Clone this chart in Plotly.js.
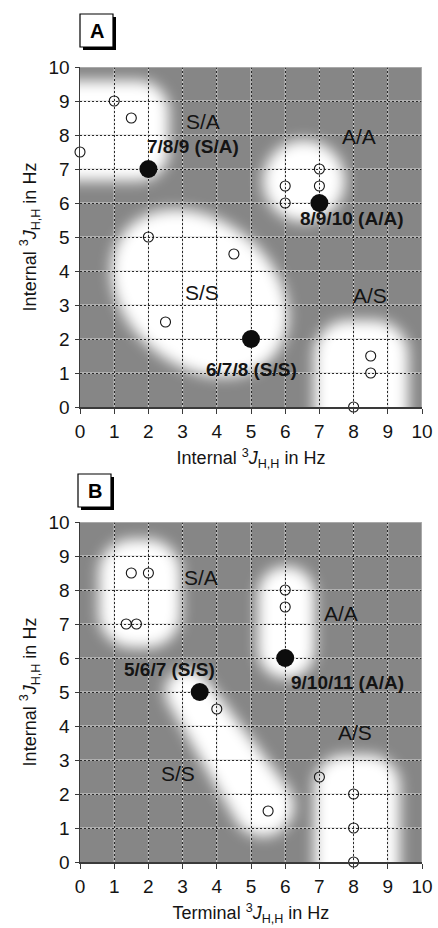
<!DOCTYPE html>
<html>
<head>
<meta charset="utf-8">
<script src="https://cdn.plot.ly/plotly-3.0.1.min.js"></script>
<style>
  html, body { margin: 0; padding: 0; background: #ffffff; }
  #chart { width: 438px; height: 928px; }
</style>
</head>
<body>
<div id="chart"></div>
<script>
// ---------------- data ----------------
const tickVals = [0, 1, 2, 3, 4, 5, 6, 7, 8, 9, 10];
const tickText = ['0', '1', '2', '3', '4', '5', '6', '7', '8', '9', '10'];

// Panel A
const openAx = [0, 1, 1.5, 2, 4.5, 2.5, 6, 6, 7, 7, 8.5, 8.5, 8];
const openAy = [7.5, 9, 8.5, 5, 4.5, 2.5, 6.5, 6, 7, 6.5, 1.5, 1, 0];
const fillAx = [2, 7, 5];
const fillAy = [7, 6, 2];
const labelAText = ['S/A', '7/8/9 (S/A)', 'A/A', '8/9/10 (A/A)', 'S/S', 'A/S', '6/7/8 (S/S)'];
const labelABold = [false, true, false, true, false, false, true];
const labelAx = [3.6, 3.3, 8.15, 7.95, 3.56, 8.48, 5.0];
const labelAy = [8.4, 7.65, 7.95, 5.53, 3.38, 3.29, 1.09];

// Panel B
const openBx = [1.5, 2, 1.35, 1.65, 6, 6, 4, 5.5, 7, 8, 8, 8];
const openBy = [8.5, 8.5, 7, 7, 8, 7.5, 4.5, 1.5, 2.5, 2, 1, 0];
const fillBx = [3.5, 6];
const fillBy = [5, 6];
const labelBText = ['S/A', 'A/A', '5/6/7 (S/S)', '9/10/11 (A/A)', 'S/S', 'A/S'];
const labelBBold = [false, false, true, true, false, false];
const labelBx = [3.54, 7.63, 2.63, 7.83, 2.87, 8.04];
const labelBy = [8.38, 7.3, 5.65, 5.27, 2.6, 3.8];

// Region (white blurred areas) outlines in data units
const regionsA = [
  {kind: 'rrect', x0: -1.5, x1: 2.6, y0: 6.65, y1: 9.6, r: 0.9},
  {kind: 'ellipse', cx: 6.55, cy: 6.65, a: 1.2, b: 1.2, ang: 0},
  {kind: 'ellipse', cx: 3.5, cy: 3.35, a: 2.85, b: 2.15, ang: -40},
  {kind: 'rrect', x0: 6.85, x1: 9.6, y0: -2, y1: 2.55, r: 1.0}
];
const regionsB = [
  {kind: 'rrect', x0: 0.55, x1: 2.95, y0: 6.3, y1: 9.5, r: 1.0},
  {kind: 'rrect', x0: 5.2, x1: 6.87, y0: 5.4, y1: 8.7, r: 0.83},
  {kind: 'capsule', x0: 3.15, y0: 5.0, r0: 0.66, x1: 5.35, y1: 1.65, r1: 0.9},
  {kind: 'rrect', x0: 6.85, x1: 9.35, y0: -2, y1: 3.15, r: 0.9}
];

// ---------------- helpers ----------------
const K = 0.5523;
function rrectPath(g) {
  const {x0, x1, y0, y1, r} = g, c = r * K;
  return `M${x0 + r},${y0} L${x1 - r},${y0} ` +
    `C${x1 - r + c},${y0} ${x1},${y0 + r - c} ${x1},${y0 + r} ` +
    `L${x1},${y1 - r} C${x1},${y1 - r + c} ${x1 - r + c},${y1} ${x1 - r},${y1} ` +
    `L${x0 + r},${y1} C${x0 + r - c},${y1} ${x0},${y1 - r + c} ${x0},${y1 - r} ` +
    `L${x0},${y0 + r} C${x0},${y0 + r - c} ${x0 + r - c},${y0} ${x0 + r},${y0} Z`;
}
function ellipsePath(g) {
  const n = 72, t = g.ang * Math.PI / 180;
  let p = '';
  for (let i = 0; i < n; i++) {
    const s = 2 * Math.PI * i / n;
    const ex = g.a * Math.cos(s), ey = g.b * Math.sin(s);
    const x = g.cx + ex * Math.cos(t) - ey * Math.sin(t);
    const y = g.cy + ex * Math.sin(t) + ey * Math.cos(t);
    p += (i === 0 ? 'M' : 'L') + x.toFixed(4) + ',' + y.toFixed(4) + ' ';
  }
  return p + 'Z';
}
function capsulePath(g) {
  const dx = g.x1 - g.x0, dy = g.y1 - g.y0;
  const base = Math.atan2(dy, dx);
  const n = 24;
  const pts = [];
  for (let i = 0; i <= n; i++) { // around end point
    const s = base - Math.PI / 2 + Math.PI * i / n;
    pts.push([g.x1 + g.r1 * Math.cos(s), g.y1 + g.r1 * Math.sin(s)]);
  }
  for (let i = 0; i <= n; i++) { // around start point
    const s = base + Math.PI / 2 + Math.PI * i / n;
    pts.push([g.x0 + g.r0 * Math.cos(s), g.y0 + g.r0 * Math.sin(s)]);
  }
  return pts.map((q, i) => (i === 0 ? 'M' : 'L') + q[0].toFixed(4) + ',' + q[1].toFixed(4)).join(' ') + ' Z';
}
function regionPath(g) {
  if (g.kind === 'rrect') return rrectPath(g);
  if (g.kind === 'ellipse') return ellipsePath(g);
  return capsulePath(g);
}

const GRAY = '#868686';
const INK = '#141414';
const FONT = 'Liberation Sans, Arial, Helvetica, sans-serif';

const shapes = [];
function addRegions(list, xr, yr) {
  list.forEach(g => shapes.push({
    type: 'path', path: regionPath(g), xref: xr, yref: yr, layer: 'below',
    fillcolor: '#ffffff', line: {width: 0}
  }));
}
addRegions(regionsA, 'x', 'y');
addRegions(regionsB, 'x2', 'y2');
const nBlobs = shapes.length;

// light under-line of the grid (dotted grid on top gives the light/dark dot look)
function addGridUnder(xr, yr) {
  tickVals.slice(1, -1).forEach(t => {
    shapes.push({type: 'line', xref: xr, yref: yr, x0: t, x1: t, y0: 0, y1: 10, layer: 'below',
      line: {color: '#d8d8d8', width: 1}});
    shapes.push({type: 'line', xref: xr, yref: yr, x0: 0, x1: 10, y0: t, y1: t, layer: 'below',
      line: {color: '#d8d8d8', width: 1}});
  });
}
addGridUnder('x', 'y');
addGridUnder('x2', 'y2');

// light top/right frame
[['x', 'y'], ['x2', 'y2']].forEach(([xr, yr]) => {
  shapes.push({type: 'line', xref: xr, yref: yr, x0: 0, x1: 10, y0: 10, y1: 10, layer: 'above',
    line: {color: '#b4b4b4', width: 1.5}});
  shapes.push({type: 'line', xref: xr, yref: yr, x0: 10, x1: 10, y0: 0, y1: 10, layer: 'above',
    line: {color: '#b4b4b4', width: 1.5}});
});

// panel letter boxes (paper coords; plot area 342x795 px starting at x=80, y bottom=862)
function px2x(px) { return (px - 80) / 342; }
function py2y(py) { return (862 - py) / 795; }
function addBox(xl, yt, size) {
  shapes.push({type: 'rect', xref: 'paper', yref: 'paper', layer: 'above',
    x0: px2x(xl + 3), x1: px2x(xl + size + 3), y0: py2y(yt + size + 3), y1: py2y(yt + 3),
    fillcolor: '#000000', line: {width: 0}});
  shapes.push({type: 'rect', xref: 'paper', yref: 'paper', layer: 'above',
    x0: px2x(xl), x1: px2x(xl + size), y0: py2y(yt + size), y1: py2y(yt),
    fillcolor: '#ffffff', line: {color: '#000000', width: 1.2}});
}
addBox(80, 14, 33);
addBox(78, 474, 33);

const annotations = [];
annotations.push({xref: 'paper', yref: 'paper', x: px2x(96.5), y: py2y(31), text: '<b>A</b>',
  showarrow: false, xanchor: 'center', yanchor: 'middle', font: {family: FONT, size: 20, color: '#000'}});
annotations.push({xref: 'paper', yref: 'paper', x: px2x(94.5), y: py2y(491), text: '<b>B</b>',
  showarrow: false, xanchor: 'center', yanchor: 'middle', font: {family: FONT, size: 20, color: '#000'}});

function addLabels(txt, bold, xs, ys, xr, yr) {
  txt.forEach((t, i) => annotations.push({
    xref: xr, yref: yr, x: xs[i], y: ys[i], text: bold[i] ? '<b>' + t + '</b>' : t,
    showarrow: false, xanchor: 'center', yanchor: 'middle',
    font: {family: FONT, size: bold[i] ? 19 : 21, color: INK}
  }));
}
addLabels(labelAText, labelABold, labelAx, labelAy, 'x', 'y');
addLabels(labelBText, labelBBold, labelBx, labelBy, 'x2', 'y2');

function openTrace(xs, ys, xa, ya) {
  return {type: 'scatter', mode: 'markers', x: xs, y: ys, xaxis: xa, yaxis: ya, cliponaxis: false,
    marker: {symbol: 'circle', size: 10, color: 'rgba(0,0,0,0)', line: {color: INK, width: 1.1}},
    hoverinfo: 'x+y', showlegend: false};
}
function fillTrace(xs, ys, xa, ya) {
  return {type: 'scatter', mode: 'markers', x: xs, y: ys, xaxis: xa, yaxis: ya, cliponaxis: false,
    marker: {symbol: 'circle', size: 18, color: '#0d0d0d', line: {width: 0}},
    hoverinfo: 'x+y', showlegend: false};
}
const traces = [
  openTrace(openAx, openAy, 'x', 'y'),
  fillTrace(fillAx, fillAy, 'x', 'y'),
  openTrace(openBx, openBy, 'x2', 'y2'),
  fillTrace(fillBx, fillBy, 'x2', 'y2')
];

const jTitle = (word) => word + ' <sup>3</sup><i>J</i><sub>H,H</sub> in Hz';

function xAxis(title, anchor) {
  return {
    range: [0, 10], tickvals: tickVals, ticktext: tickText, anchor: anchor,
    showgrid: true, gridcolor: '#2a2a2a', griddash: '2px,2px', gridwidth: 1,
    zeroline: false, showline: true, linecolor: '#3a3a3a', linewidth: 1.5,
    ticks: 'outside', ticklen: 5, tickcolor: '#3a3a3a', tickwidth: 1,
    ticklabelstandoff: 2,
    tickfont: {family: FONT, size: 19, color: INK},
    title: {text: title, font: {family: FONT, size: 18, color: INK}, standoff: 10},
    fixedrange: true
  };
}
function yAxis(title, anchor, domain) {
  return {
    range: [0, 10], tickvals: tickVals, ticktext: tickText, anchor: anchor, domain: domain,
    showgrid: true, gridcolor: '#2a2a2a', griddash: '2px,2px', gridwidth: 1,
    zeroline: false, showline: true, linecolor: '#3a3a3a', linewidth: 1.5,
    ticks: 'outside', ticklen: 4, tickcolor: '#3a3a3a', tickwidth: 1,
    ticklabelstandoff: 1,
    tickfont: {family: FONT, size: 19, color: INK},
    title: {text: title, font: {family: FONT, size: 18, color: INK}, standoff: 7},
    fixedrange: true
  };
}

const layout = {
  width: 438, height: 928,
  margin: {l: 80, r: 16, t: 67, b: 66},
  paper_bgcolor: '#ffffff', plot_bgcolor: GRAY,
  showlegend: false,
  xaxis: xAxis(jTitle('Internal'), 'y'),
  yaxis: yAxis(jTitle('Internal'), 'x', [455 / 795, 1]),
  xaxis2: xAxis(jTitle('Terminal'), 'y2'),
  yaxis2: yAxis(jTitle('Internal'), 'x2', [0, 340 / 795]),
  shapes: shapes,
  annotations: annotations,
  font: {family: FONT, color: INK}
};

const gd = document.getElementById('chart');
Plotly.newPlot(gd, traces, layout, {displayModeBar: false, staticPlot: true}).then(() => {
  const svg = gd.querySelector('svg.main-svg');
  const NS = 'http://www.w3.org/2000/svg';
  let defs = svg.querySelector('defs');
  if (!defs) { defs = document.createElementNS(NS, 'defs'); svg.insertBefore(defs, svg.firstChild); }
  const f = document.createElementNS(NS, 'filter');
  f.setAttribute('id', 'blobBlur');
  f.setAttribute('x', '-50%'); f.setAttribute('y', '-50%');
  f.setAttribute('width', '200%'); f.setAttribute('height', '200%');
  const b = document.createElementNS(NS, 'feGaussianBlur');
  b.setAttribute('stdDeviation', '7');
  f.appendChild(b);
  defs.appendChild(f);
  gd.querySelectorAll('.shapelayer path').forEach(p => {
    const idx = parseInt(p.getAttribute('data-index'), 10);
    if (!isNaN(idx) && idx < nBlobs) {
      p.setAttribute('filter', 'url(#blobBlur)');
    }
  });
});
</script>
</body>
</html>
